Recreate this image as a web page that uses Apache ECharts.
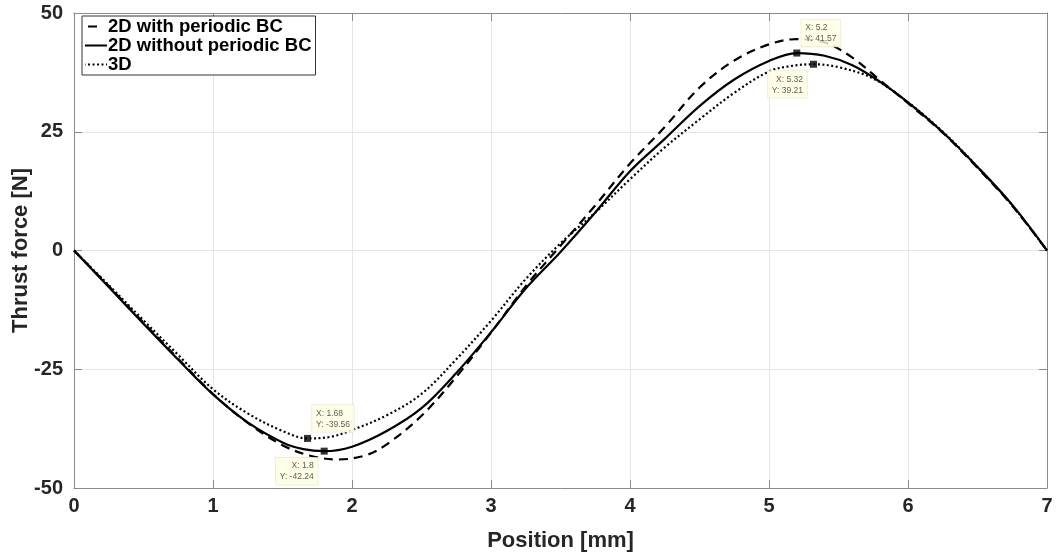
<!DOCTYPE html>
<html>
<head>
<meta charset="utf-8">
<script src="https://cdn.jsdelivr.net/npm/echarts@6/dist/echarts.min.js"></script>
<style>html,body{margin:0;padding:0;background:#fff;}#c{width:1058px;height:556px;}</style>
</head>
<body>
<div id="c"></div>
<script>
// Series: 2D with periodic BC (dashed)
var posPeriodic   = [0,0.25,0.5,0.75,1,1.25,1.5,1.7,1.9,2.1,2.25,2.5,2.75,3,3.25,3.5,3.75,4,4.25,4.5,4.75,5,5.2,5.4,5.6,5.8,6,6.25,6.5,6.75,7];
var forcePeriodic = [0,-7.5,-15.2,-22.8,-30.2,-36.3,-41,-43.2,-44,-43.1,-40.8,-34.8,-26.6,-17.3,-7.5,1,9.5,18.3,26,34.3,40,43.4,44.5,43.8,40.6,35.8,31,24.8,17.4,9.4,0];
// Series: 2D without periodic BC (solid)
var posNoPeriodic   = [0,0.25,0.5,0.75,1,1.25,1.5,1.65,1.8,2,2.25,2.5,2.75,3,3.25,3.5,3.75,4,4.25,4.5,4.75,5,5.2,5.4,5.6,5.8,6,6.25,6.5,6.75,7];
var forceNoPeriodic = [0,-7.7,-15.4,-23,-30.3,-36.2,-40.4,-41.8,-42.24,-41.3,-38,-33.2,-25.8,-17.2,-8,-0.3,8,16.7,23.5,30.4,36,39.9,41.57,41,39,35.5,31.2,24.9,17.6,9.6,0];
// Series: 3D (dotted)
var pos3D   = [0,0.25,0.5,0.75,1,1.25,1.5,1.68,1.85,2,2.25,2.5,2.75,3,3.25,3.5,3.75,4,4.25,4.5,4.75,5,5.15,5.32,5.5,5.75,6,6.25,6.5,6.75,7];
var force3D = [0,-7.3,-14.7,-22,-29.2,-34.3,-38,-39.56,-39.2,-37.8,-34.7,-30.2,-22.9,-14.8,-6,1.5,8,15,21.7,27.6,33.2,37.7,38.8,39.21,38.6,36.2,31.2,25,17.6,9.5,0];
// Data tips
var tipX = [1.68, 1.8, 5.2, 5.32];
var tipY = [-39.56, -42.24, 41.57, 39.21];
var tipPlacement = ['upRight', 'downLeft', 'upRight', 'downLeft'];
// Axis ticks
var xTicks = [0,1,2,3,4,5,6,7];
var yTicks = [-50,-25,0,25,50];
var seriesNames = ['2D with periodic BC', '2D without periodic BC', '3D'];

function pairs(xs, ys){ return xs.map(function(x,i){ return [x, ys[i]]; }); }

var FONT = '"Liberation Sans", Arial, sans-serif';
var AX = '#8a8a8a';
var TXT = '#262626';

var tipData = tipX.map(function(x,i){
  var up = tipPlacement[i] === 'upRight';
  return {
    value: [x, tipY[i]],
    label: {
      show: true,
      formatter: 'X: ' + x + '\nY: ' + tipY[i],
      position: up ? [8, -3] : [-3, 10],
      align: up ? 'left' : 'right',
      verticalAlign: up ? 'bottom' : 'top'
    }
  };
});

var chart = echarts.init(document.getElementById('c'), null, {renderer: 'canvas'});
chart.setOption({
  animation: false,
  backgroundColor: '#ffffff',
  grid: {left: 74, right: 11, top: 13, bottom: 68, containLabel: false, outerBoundsMode: 'none'},
  legend: {
    data: [
      {name: seriesNames[0], lineStyle: {type: [9, 40], dashOffset: -3}},
      {name: seriesNames[1]},
      {name: seriesNames[2]}
    ],
    orient: 'vertical',
    left: 82, top: 16,
    backgroundColor: '#ffffff',
    borderColor: '#333333', borderWidth: 1, borderRadius: 0,
    padding: [1, 4, 1, 2],
    itemGap: 0, itemWidth: 22, itemHeight: 14,
    itemStyle: {opacity: 0},
    textStyle: {fontFamily: FONT, fontWeight: 'bold', fontSize: 18.5, color: '#000', padding: [0,0,0,-4]}
  },
  xAxis: [{
    type: 'value', min: 0, max: 7, interval: 1,
    name: 'Position [mm]', nameLocation: 'middle', nameGap: 42, nameMoveOverlap: false,
    nameTextStyle: {fontFamily: FONT, fontWeight: 'bold', fontSize: 22, color: TXT},
    axisLine: {show: true, onZero: false, lineStyle: {color: AX, width: 1}},
    axisTick: {show: true, inside: true, length: 8, lineStyle: {color: AX}},
    axisLabel: {fontFamily: FONT, fontWeight: 'bold', fontSize: 20, color: TXT, margin: 8,
      formatter: function(v){ return xTicks.indexOf(v) >= 0 ? String(v) : ''; }},
    splitLine: {show: true, lineStyle: {color: '#e6e6e6', width: 1}}
  }, {
    type: 'value', min: 0, max: 7, interval: 1, position: 'top',
    axisLine: {show: true, onZero: false, lineStyle: {color: AX, width: 1}},
    axisTick: {show: true, inside: true, length: 8, lineStyle: {color: AX}},
    axisLabel: {show: false}, splitLine: {show: false}
  }],
  yAxis: [{
    type: 'value', min: -50, max: 50, interval: 25,
    name: 'Thrust force [N]', nameLocation: 'middle', nameGap: 42, nameMoveOverlap: false,
    nameTextStyle: {fontFamily: FONT, fontWeight: 'bold', fontSize: 22, color: TXT},
    axisLine: {show: true, onZero: false, lineStyle: {color: AX, width: 1}},
    axisTick: {show: true, inside: true, length: 8, lineStyle: {color: AX}},
    axisLabel: {fontFamily: FONT, fontWeight: 'bold', fontSize: 20, color: TXT, margin: 11,
      formatter: function(v){ return yTicks.indexOf(v) >= 0 ? String(v) : ''; }},
    splitLine: {show: true, lineStyle: {color: '#e6e6e6', width: 1}}
  }, {
    type: 'value', min: -50, max: 50, interval: 25, position: 'right',
    axisLine: {show: true, onZero: false, lineStyle: {color: AX, width: 1}},
    axisTick: {show: true, inside: true, length: 8, lineStyle: {color: AX}},
    axisLabel: {show: false}, splitLine: {show: false}
  }],
  series: [{
    name: seriesNames[0], type: 'line', data: pairs(posPeriodic, forcePeriodic),
    smooth: 0.35, symbol: 'none', z: 3,
    lineStyle: {color: '#000', width: 2.2, type: [9, 6]}, itemStyle: {color: '#000'}
  }, {
    name: seriesNames[1], type: 'line', data: pairs(posNoPeriodic, forceNoPeriodic),
    smooth: 0.35, symbol: 'none', z: 4,
    lineStyle: {color: '#000', width: 2.2, type: 'solid'}, itemStyle: {color: '#000'}
  }, {
    name: seriesNames[2], type: 'line', data: pairs(pos3D, force3D),
    smooth: 0.35, symbol: 'none', z: 3,
    lineStyle: {color: '#000', width: 2.2, type: [2, 2.5]}, itemStyle: {color: '#000'}
  }, {
    name: 'tips', type: 'scatter', data: tipData, z: 10,
    symbol: 'rect', symbolSize: 7, itemStyle: {color: '#000'},
    label: {
      fontFamily: FONT, fontSize: 8.5, color: '#333', lineHeight: 11,
      backgroundColor: '#ffffe1', borderColor: '#e2e2c8', borderWidth: 0.6,
      padding: [3, 4, 2, 4]
    },
    tooltip: {show: false}
  }]
});
</script>
</body>
</html>
